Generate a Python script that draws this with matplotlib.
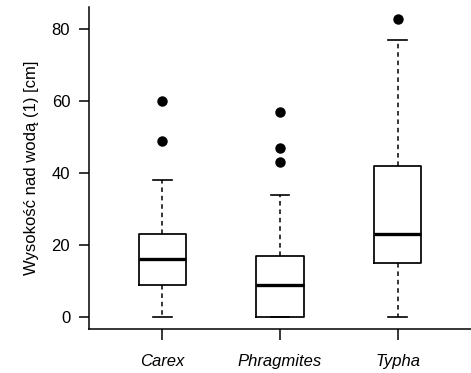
import matplotlib
matplotlib.use("Agg")
import matplotlib.pyplot as plt

categories = ["Carex", "Phragmites", "Typha"]
whislo = [0, 0, 0]
q1 = [9, 0, 15]
med = [16, 9, 23]
q3 = [23, 17, 42]
whishi = [38, 34, 77]
fliers = [[49, 60], [43, 47, 57], [83]]
yticks = [0, 20, 40, 60, 80]

plt.rcParams['font.family'] = ['Liberation Sans', 'DejaVu Sans']

fig = plt.figure(figsize=(4.71, 3.73), dpi=100)
ax = fig.add_axes([89/471, 1 - 329/373, 1 - 89/471, (329 - 7)/373])

stats = []
for i, c in enumerate(categories):
    stats.append(dict(label=c, whislo=whislo[i], q1=q1[i], med=med[i],
                      q3=q3[i], whishi=whishi[i], fliers=fliers[i]))

ax.bxp(stats, positions=[1, 2, 3], widths=0.4, capwidths=0.16,
       showfliers=True,
       boxprops=dict(color='black', linewidth=1.25),
       medianprops=dict(color='black', linewidth=2.4, solid_capstyle='butt'),
       whiskerprops=dict(color='black', linewidth=1.1, linestyle=(0, (3, 2.5))),
       capprops=dict(color='black', linewidth=1.2),
       flierprops=dict(marker='o', markerfacecolor='black', markeredgecolor='black',
                       markersize=6.5, linestyle='none'))

ax.set_xlim(0.38, 3.62)
ax.set_ylim(-3.34, 86.2)
ax.set_yticks(yticks)
ax.set_yticklabels([str(v) for v in yticks], fontsize=12)
ax.set_xticks([1, 2, 3])
ax.set_xticklabels(categories, fontsize=12, fontstyle='italic')
ax.tick_params(axis='y', direction='out', length=7.5, width=1.1, pad=6)
ax.tick_params(axis='x', direction='out', length=8, width=1.1, pad=10)
ax.spines['top'].set_visible(False)
ax.spines['right'].set_visible(False)
ax.spines['left'].set_linewidth(1.1)
ax.spines['bottom'].set_linewidth(1.1)
ax.set_ylabel("Wysokość nad wodą (1) [cm]", fontsize=12, labelpad=9)

fig.savefig("out.png", dpi=100)
